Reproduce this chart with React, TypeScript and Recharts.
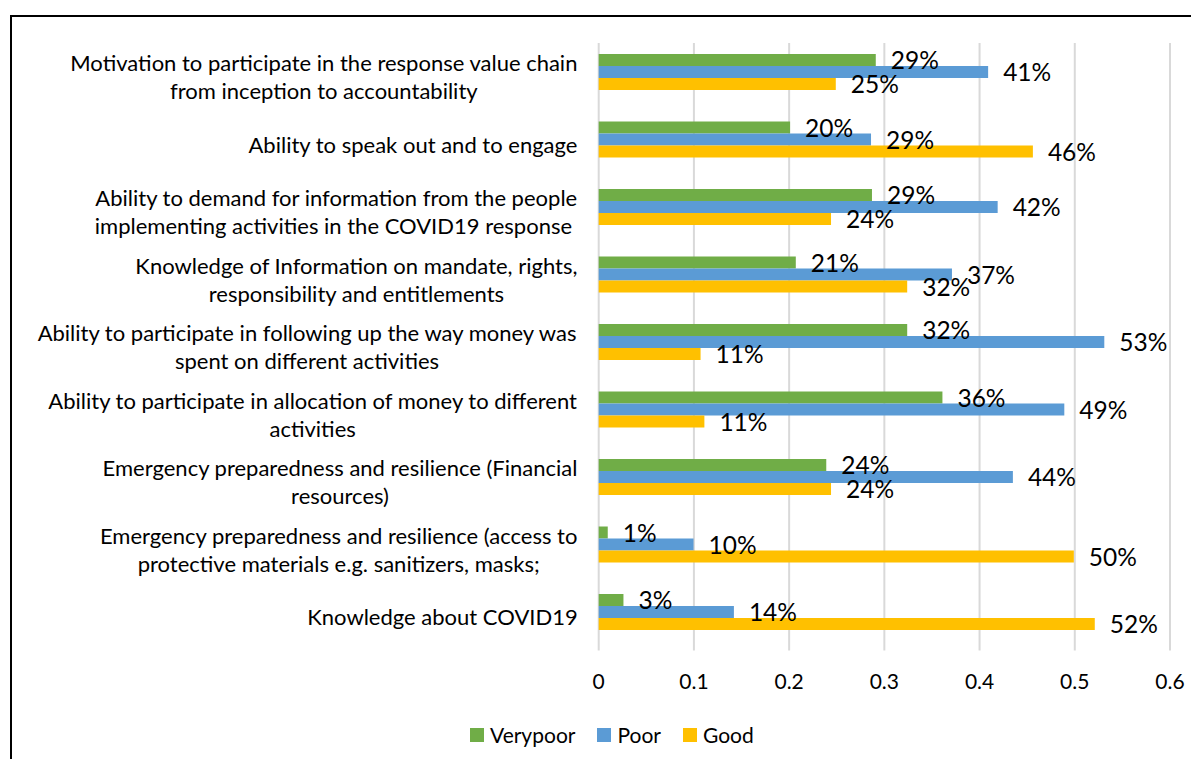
import React from 'react';
import { BarChart, Bar, XAxis, YAxis, CartesianGrid, Legend, LabelList } from 'recharts';

const categories: string[] = [
  'Motivation to participate in the response value chain\nfrom inception to accountability',
  'Ability to speak out and to engage',
  'Ability to demand for information from the people\nimplementing activities in the COVID19 response ',
  'Knowledge of Information on mandate, rights,\nresponsibility and entitlements',
  'Ability to participate in following up the way money was\nspent on different activities',
  'Ability to participate in allocation of money to different\nactivities',
  'Emergency preparedness and resilience (Financial\nresources)',
  'Emergency preparedness and resilience (access to\nprotective materials e.g. sanitizers, masks;',
  'Knowledge about COVID19',
];
const verypoor: number[] = [0.291, 0.201, 0.287, 0.207, 0.324, 0.361, 0.239, 0.0095, 0.026];
const poor: number[] = [0.409, 0.286, 0.419, 0.371, 0.531, 0.489, 0.435, 0.0996, 0.142];
const good: number[] = [0.249, 0.456, 0.244, 0.324, 0.107, 0.111, 0.244, 0.499, 0.521];
const xTicks: number[] = [0, 0.1, 0.2, 0.3, 0.4, 0.5, 0.6];
const seriesNames: string[] = ['Verypoor', 'Poor', 'Good'];
const seriesKeys: string[] = ['verypoor', 'poor', 'good'];
const seriesColors: string[] = ['#70AD47', '#5B9BD5', '#FFC000'];

const data = categories.map((name, i) => ({
  name,
  verypoor: verypoor[i],
  poor: poor[i],
  good: good[i],
}));

const FONT = 'Lato';
const CAT_FS = 22;
const TICK_FS = 21;
const LABEL_FS = 24.5;
const LEGEND_FS = 21;

let canvasEl: HTMLCanvasElement | null = null;
function textWidth(s: string, font: string): number {
  if (!canvasEl) canvasEl = document.createElement('canvas');
  const ctx = canvasEl.getContext('2d');
  if (!ctx) return s.length * 10;
  ctx.font = font;
  return ctx.measureText(s).width;
}

const CategoryTick = (props: any) => {
  const { x, y, payload } = props;
  const lines = String(payload.value).split('\n');
  const font = `${CAT_FS}px ${FONT}`;
  const block = Math.max(...lines.map((l) => textWidth(l, font)));
  const right = x - 21;
  const cx = right - block / 2;
  const lh = 28;
  const y0 = y + 5.5 - ((lines.length - 1) * lh) / 2;
  return (
    <g>
      {lines.map((l, i) => (
        <text
          key={i}
          x={cx}
          y={y0 + i * lh}
          textAnchor="middle"
          dominantBaseline="central"
          fontSize={CAT_FS}
          fontFamily={FONT}
          fill="#000"
          style={{ whiteSpace: 'pre' }}
        >
          {l}
        </text>
      ))}
    </g>
  );
};

const ValueTick = (props: any) => {
  const { x, y, payload } = props;
  return (
    <text x={x} y={y + 35} textAnchor="middle" dominantBaseline="central" fontSize={TICK_FS} fontFamily={FONT} fill="#000">
      {String(payload.value)}
    </text>
  );
};

const ValueLabel = (props: any) => {
  const { x, y, width, height, value } = props;
  return (
    <text
      x={x + width + 15}
      y={y + height / 2 - 0.5}
      textAnchor="start"
      dominantBaseline="central"
      fontSize={LABEL_FS}
      fontFamily={FONT}
      fill="#000"
    >
      {`${Math.round(value * 100)}%`}
    </text>
  );
};

const LegendContent = () => (
  <div style={{ display: 'flex', alignItems: 'center', fontFamily: FONT, fontSize: LEGEND_FS, color: '#000', whiteSpace: 'nowrap' }}>
    {seriesNames.map((n, i) => (
      <div key={n} style={{ display: 'flex', alignItems: 'center', marginRight: 22 }}>
        <span style={{ display: 'inline-block', width: 14, height: 14, background: seriesColors[i], marginRight: 6 }} />
        <span>{n}</span>
      </div>
    ))}
  </div>
);

const GridLine = (p: any) => (
  <line key={p.key ?? `${p.x1}`} x1={p.x1} x2={p.x2} y1={p.y1 + 5.5} y2={p.y2 + 5.5} stroke="#D9D9D9" strokeWidth={2} />
);

export default function App() {
  return (
    <div style={{ position: 'relative', width: 1183, height: 751, background: '#fff' }}>
      <div
        style={{
          position: 'absolute',
          left: 2,
          top: 7,
          right: 0,
          bottom: 0,
          borderLeft: '2px solid #000',
          borderTop: '2px solid #000',
        }}
      />
      <div style={{ position: 'absolute', left: 0, top: 0 }}>
        <BarChart
          width={1183}
          height={751}
          data={data}
          layout="vertical"
          margin={{ top: 29.6, right: 21, left: 0, bottom: 83.9 }}
          barCategoryGap={16.4}
          barGap={0}
        >
          <CartesianGrid horizontal={false} vertical={GridLine} />
          <XAxis
            type="number"
            domain={[0, 0.6]}
            ticks={xTicks}
            axisLine={false}
            tickLine={false}
            tickSize={0}
            tickMargin={0}
            height={30}
            tick={<ValueTick />}
            interval={0}
          />
          <YAxis
            type="category"
            dataKey="name"
            width={590.7}
            axisLine={false}
            tickLine={false}
            tickSize={0}
            tickMargin={0}
            tick={<CategoryTick />}
            interval={0}
          />
          <Legend
            layout="horizontal"
            verticalAlign="middle"
            align="center"
            content={<LegendContent />}
            wrapperStyle={{ top: 714, left: 462, width: 400, height: 20 }}
          />
          {seriesKeys.map((k, i) => (
            <Bar key={k} dataKey={k} name={seriesNames[i]} fill={seriesColors[i]} isAnimationActive={false}>
              <LabelList dataKey={k} content={<ValueLabel />} />
            </Bar>
          ))}
        </BarChart>
      </div>
    </div>
  );
}
